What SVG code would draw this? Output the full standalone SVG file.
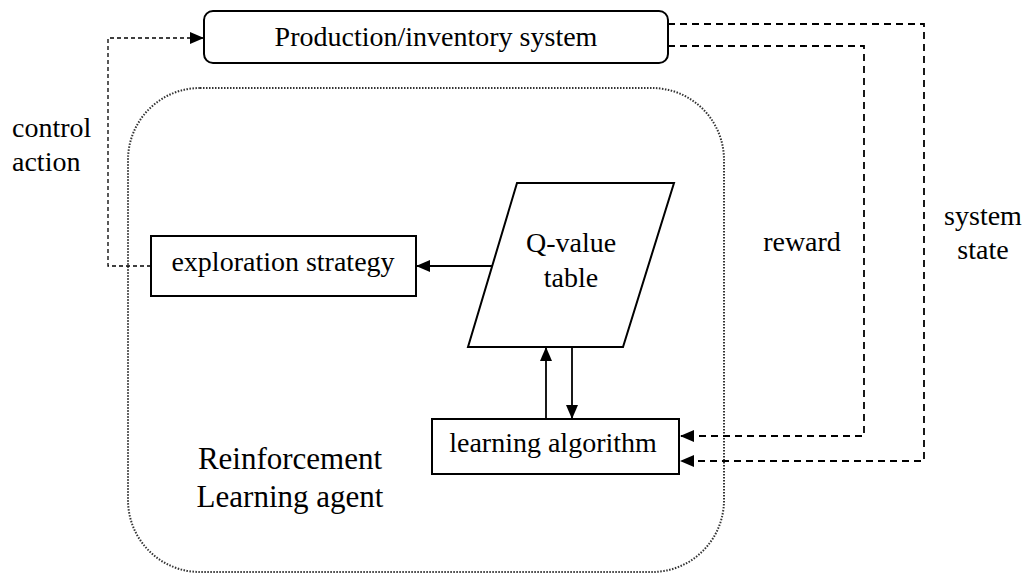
<svg xmlns="http://www.w3.org/2000/svg" width="1026" height="574" viewBox="0 0 1026 574">
<style>
text{font-family:"Liberation Serif","Times New Roman",serif;font-size:28px;fill:#000}
.big{font-size:31px}
.box{fill:#fff;stroke:#000;stroke-width:2}
.solid{fill:none;stroke:#000;stroke-width:1.8}
.dash{fill:none;stroke:#000;stroke-width:1.8;stroke-dasharray:7,5}
.fine{fill:none;stroke:#000;stroke-width:1.3;stroke-dasharray:4,3}
</style>
<defs>
<marker id="ah" markerUnits="userSpaceOnUse" markerWidth="14" markerHeight="12" refX="13" refY="6" orient="auto">
<path d="M0,0 L14,6 L0,12 Z" fill="#000"/>
</marker>
</defs>
<g id="agent">
<rect x="128" y="88" width="596" height="484" rx="72" ry="72" fill="none" stroke="#333" stroke-width="2" stroke-dasharray="1.5,1.5"/>
<text class="big" x="290" y="469" text-anchor="middle">Reinforcement</text>
<text class="big" x="290" y="507" text-anchor="middle">Learning agent</text>
</g>
<g id="production">
<rect class="box" x="204" y="11" width="464" height="52" rx="9" ry="9"/>
<text x="436" y="46" text-anchor="middle">Production/inventory system</text>
</g>
<g id="exploration">
<rect class="box" x="151" y="236" width="265" height="60"/>
<text x="283" y="271" text-anchor="middle">exploration strategy</text>
</g>
<g id="qtable">
<polygon class="box" points="517,183 674,183 623,347 468,347"/>
<text x="571" y="252" text-anchor="middle">Q-value</text>
<text x="571" y="287" text-anchor="middle">table</text>
</g>
<g id="learning">
<rect class="box" x="432" y="419" width="247" height="55"/>
<text x="553" y="452" text-anchor="middle">learning algorithm</text>
</g>
<g id="labels">
<text x="12" y="137">control</text>
<text x="12" y="171">action</text>
<text x="802" y="251" text-anchor="middle">reward</text>
<text x="983" y="225" text-anchor="middle">system</text>
<text x="983" y="259" text-anchor="middle">state</text>
</g>
<g id="connectors">
<path class="solid" d="M492,266 L417,266" marker-end="url(#ah)"/>
<path class="solid" d="M546,419 L546,348" marker-end="url(#ah)"/>
<path class="solid" d="M572,347 L572,418" marker-end="url(#ah)"/>
<path class="fine" d="M151,266 L108,266 L108,38 L203,38" marker-end="url(#ah)"/>
<path class="dash" d="M668,46 L864,46 L864,436 L681,436" marker-end="url(#ah)"/>
<path class="dash" d="M668,24 L924,24 L924,461 L681,461" marker-end="url(#ah)"/>
</g>
</svg>
